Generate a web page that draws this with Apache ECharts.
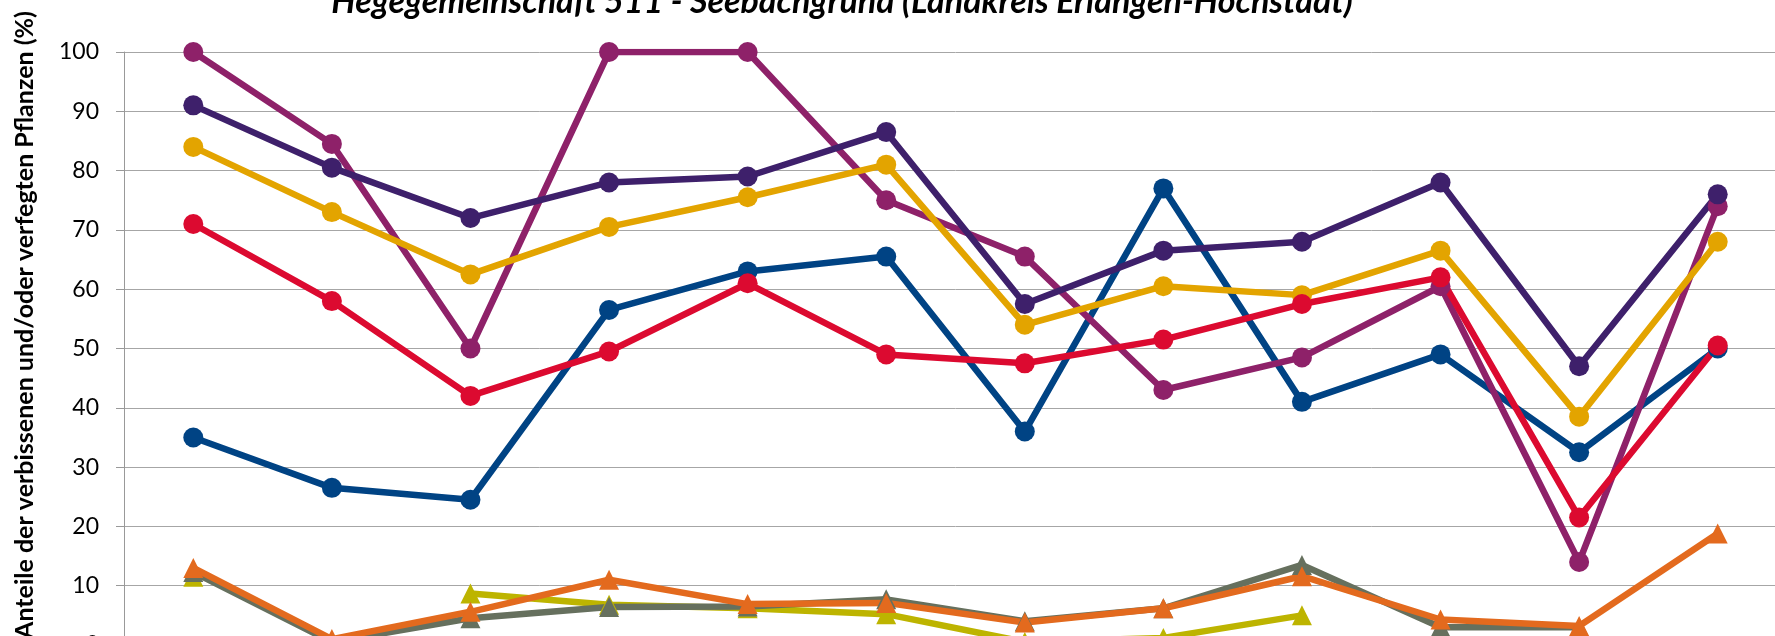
<!DOCTYPE html>
<html>
<head>
<meta charset="utf-8">
<script src="https://cdn.jsdelivr.net/npm/echarts@6/dist/echarts.min.js"></script>
<style>
html,body{margin:0;padding:0;overflow:hidden;background:#fff;}
#c{width:1800px;height:700px;}
</style>
</head>
<body>
<div id="c"></div>
<script>
// Data
const categories = ['1991','1994','1997','2000','2003','2006','2009','2012','2015','2018','2021','2024'];
const titleText = 'Hegegemeinschaft 511 - Seebachgrund (Landkreis Erlangen-Höchstadt)';
const yAxisName = 'Anteile der verbissenen und/oder verfegten Pflanzen (%)';
const yTicks = [0, 10, 20, 30, 40, 50, 60, 70, 80, 90, 100];

const seriesNames = ['Serie 1','Serie 2','Serie 3','Serie 4','Serie 5','Serie 6','Serie 7','Serie 8'];
const blueValues    = [35, 26.5, 24.5, 56.5, 63, 65.5, 36, 77, 41, 49, 32.5, 50];
const magentaValues = [100, 84.5, 50, 100, 100, 75, 65.5, 43, 48.5, 60.5, 14, 74];
const purpleValues  = [91, 80.5, 72, 78, 79, 86.5, 57.5, 66.5, 68, 78, 47, 76];
const goldValues    = [84, 73, 62.5, 70.5, 75.5, 81, 54, 60.5, 59, 66.5, 38.5, 68];
const redValues     = [71, 58, 42, 49.5, 61, 49, 47.5, 51.5, 57.5, 62, 21.5, 50.5];
const yellowValues  = [11.5, null, 8.7, 6.8, 6.2, 5.2, 0.5, 1.2, 5, null, null, null];
const grayValues    = [12.3, 0.5, 4.5, 6.4, 6.5, 7.7, 4, 6.2, 13.5, 3, 3, null];
const orangeValues  = [13, 1, 5.6, 11, 6.9, 7.1, 3.8, 6.2, 11.6, 4.3, 3.2, 18.8];

const FONT = 'Lato';

function lineSeries(name, data, color, symbol, size) {
  return {
    name: name, type: 'line', data: data,
    symbol: symbol, symbolSize: size, showSymbol: true,
    connectNulls: false,
    itemStyle: { color: color, borderWidth: 0 },
    lineStyle: { color: color, width: 6.5, join: 'round', cap: 'round' },
    emphasis: { disabled: true },
    animation: false
  };
}

const chart = echarts.init(document.getElementById('c'), null, { renderer: 'canvas' });
chart.setOption({
  backgroundColor: '#ffffff',
  animation: false,
  grid: { left: 124, top: 52, width: 1663, height: 593, containLabel: false },
  xAxis: {
    type: 'category', data: categories, boundaryGap: true,
    axisLine: { show: true, lineStyle: { color: '#999999', width: 1 } },
    axisTick: { show: false },
    axisLabel: { fontFamily: FONT, fontSize: 22, color: '#000' },
    splitLine: { show: false }
  },
  yAxis: {
    type: 'value', min: yTicks[0], max: yTicks[yTicks.length - 1], interval: 10,
    axisLine: { show: true, lineStyle: { color: '#999999', width: 1 } },
    axisTick: { show: true, length: 8, lineStyle: { color: '#999999', width: 1 } },
    axisLabel: { fontFamily: FONT, fontSize: 23, color: '#000', margin: 25 },
    splitLine: { show: true, lineStyle: { color: '#A6A6A6', width: 1 } }
  },
  graphic: [
    {
      type: 'text', x: 842, y: 19,
      style: {
        text: titleText, fontFamily: FONT, fontSize: 34, fontWeight: 'bold', fontStyle: 'italic',
        fill: '#000', align: 'center', verticalAlign: 'bottom'
      }
    },
    {
      type: 'text', x: 25, y: 325, rotation: Math.PI / 2,
      style: {
        text: yAxisName, fontFamily: FONT, fontSize: 25, fontWeight: 'bold',
        fill: '#000', align: 'center', verticalAlign: 'middle'
      }
    }
  ],
  series: [
    lineSeries(seriesNames[0], blueValues, '#004384', 'circle', 20),
    lineSeries(seriesNames[1], magentaValues, '#8E2169', 'circle', 20),
    lineSeries(seriesNames[2], purpleValues, '#3E206B', 'circle', 20),
    lineSeries(seriesNames[3], goldValues, '#E3A400', 'circle', 20),
    lineSeries(seriesNames[4], redValues, '#DC0A30', 'circle', 20),
    lineSeries(seriesNames[5], yellowValues, '#BDB400', 'triangle', 20),
    lineSeries(seriesNames[6], grayValues, '#66705E', 'triangle', 20),
    lineSeries(seriesNames[7], orangeValues, '#E36A1E', 'triangle', 20)
  ]
});
</script>
</body>
</html>
